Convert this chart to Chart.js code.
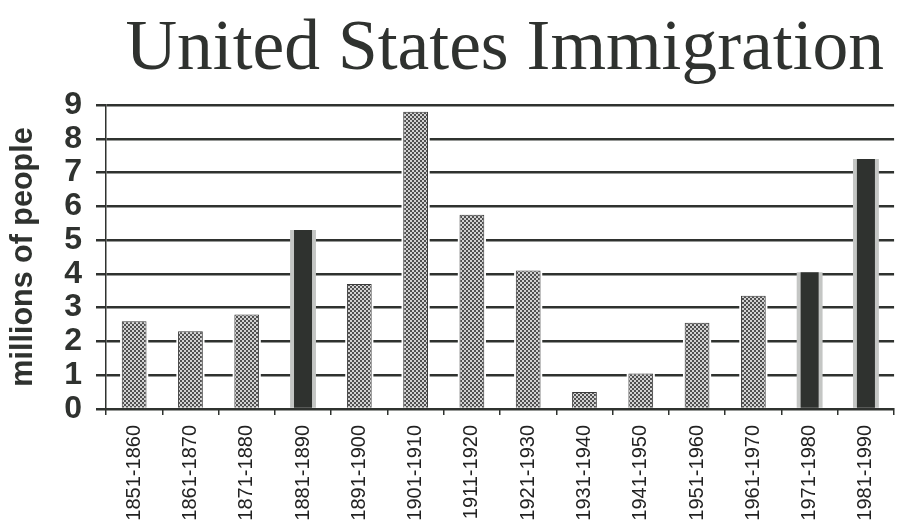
<!DOCTYPE html>
<html>
<head>
<meta charset="utf-8">
<script src="https://cdn.jsdelivr.net/npm/chart.js@4.4.1/dist/chart.umd.min.js"></script>
<style>
  html, body { margin: 0; padding: 0; background: #fff; }
  #wrap { width: 900px; height: 521px; position: relative; }
</style>
</head>
<body>
<div id="wrap"><canvas id="myChart"></canvas></div>
<script>
// Data
const chartTitle = 'United States Immigration';
const yAxisTitle = 'millions of people';
const decades = ['1851-1860', '1861-1870', '1871-1880', '1881-1890', '1891-1900', '1901-1910', '1911-1920',
                 '1921-1930', '1931-1940', '1941-1950', '1951-1960', '1961-1970', '1971-1980', '1981-1990'];
const immigrants = [2.6, 2.3, 2.8, 5.3, 3.7, 8.8, 5.75, 4.1, 0.5, 1.05, 2.55, 3.35, 4.05, 7.4];
const darkDecades = ['1881-1890', '1971-1980', '1981-1990'];
const yTicks = [0, 1, 2, 3, 4, 5, 6, 7, 8, 9];

const ink = '#2f322f';

// Split the series into the dotted bars and the solid dark bars
const isDark = decades.map(d => darkDecades.includes(d));
const dottedValues = immigrants.map((v, i) => isDark[i] ? null : v);
const darkValues = immigrants.map((v, i) => isDark[i] ? v : null);

// Checker pattern for the dotted bars
function makeDots() {
    const c = document.createElement('canvas');
    c.width = 4; c.height = 4;
    const g = c.getContext('2d');
    g.fillStyle = '#d2d2d2';
    g.fillRect(0, 0, 4, 4);
    g.fillStyle = '#505050';
    g.fillRect(0, 0, 2, 2);
    g.fillRect(2, 2, 2, 2);
    return g.createPattern(c, 'repeat');
}

// Title drawn as text on the canvas, right aligned like the scan
const titlePlugin = {
    id: 'bigTitle',
    afterDraw(chart) {
        const ctx = chart.ctx;
        ctx.save();
        ctx.font = '71.5px "Liberation Serif", "Times New Roman", serif';
        ctx.fillStyle = ink;
        ctx.textAlign = 'right';
        ctx.textBaseline = 'alphabetic';
        ctx.fillText(chartTitle, 884, 69);
        ctx.restore();
    }
};

const ctx = document.getElementById('myChart').getContext('2d');

const config = {
    type: 'bar',
    data: {
        labels: decades,
        datasets: [
            {   // white gap around dotted bars
                data: dottedValues,
                backgroundColor: '#ffffff',
                borderWidth: 0,
                barPercentage: 0.5,
                categoryPercentage: 1,
                grouped: false,
                order: 3
            },
            {   // grey halo around dark bars
                data: darkValues,
                backgroundColor: '#c4c6c4',
                borderWidth: 0,
                barPercentage: 0.46,
                categoryPercentage: 1,
                grouped: false,
                order: 3
            },
            {
                data: dottedValues,
                backgroundColor: makeDots(),
                borderColor: '#3a3a3a',
                borderWidth: 1,
                borderSkipped: 'bottom',
                barPercentage: 0.44,
                categoryPercentage: 1,
                grouped: false,
                order: 1
            },
            {
                data: darkValues,
                backgroundColor: ink,
                borderWidth: 0,
                barPercentage: 0.32,
                categoryPercentage: 1,
                grouped: false,
                order: 1
            }
        ]
    },
    options: {
        responsive: true,
        maintainAspectRatio: false,
        animation: false,
        events: [],
        layout: {
            padding: { top: 105, right: 2, left: 0, bottom: 0 }
        },
        plugins: {
            legend: { display: false },
            tooltip: { enabled: false },
            title: { display: false }
        },
        scales: {
            x: {
                offset: true,
                grid: {
                    drawOnChartArea: false,
                    drawTicks: true,
                    tickLength: 6,
                    color: ink,
                    lineWidth: 1.5
                },
                border: { display: true, color: ink, width: 2 },
                ticks: {
                    minRotation: 90,
                    maxRotation: 90,
                    autoSkip: false,
                    padding: 10,
                    color: '#222',
                    font: { family: '"Liberation Sans", Arial, sans-serif', size: 20 }
                },
                afterFit: (scale) => { scale.height = 112; }
            },
            y: {
                min: 0,
                max: 9,
                afterBuildTicks: (scale) => { scale.ticks = yTicks.map(v => ({ value: v })); },
                grid: {
                    drawTicks: true,
                    tickLength: 10,
                    color: ink,
                    lineWidth: 2.5
                },
                border: { display: true, color: ink, width: 1.5 },
                ticks: {
                    autoSkip: false,
                    padding: 14,
                    color: ink,
                    font: { family: '"Liberation Sans", Arial, sans-serif', size: 32, weight: 'bold' }
                },
                title: {
                    display: true,
                    text: yAxisTitle,
                    color: ink,
                    padding: { top: 5, bottom: 0 },
                    font: { family: '"Liberation Sans", Arial, sans-serif', size: 30.5, weight: 'bold' }
                },
                afterFit: (scale) => { scale.width = 106; }
            }
        }
    },
    plugins: [titlePlugin]
};

const chart = new Chart(ctx, config);
</script>
</body>
</html>
